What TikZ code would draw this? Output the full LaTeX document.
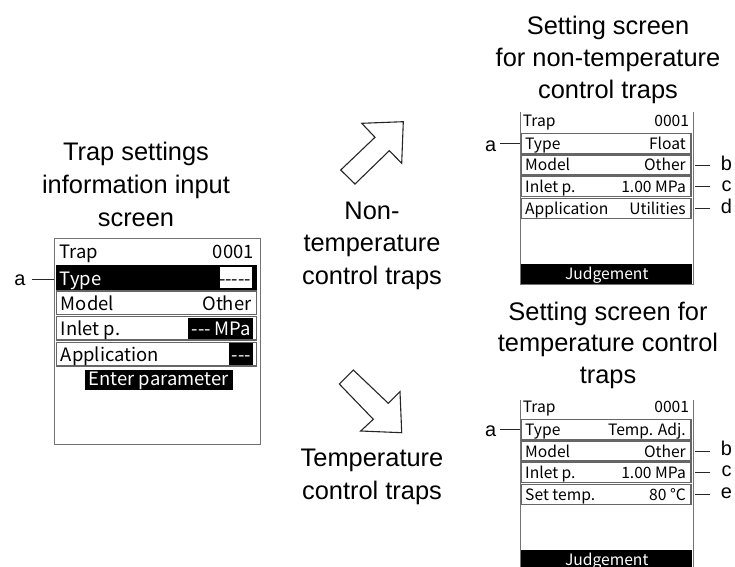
\documentclass[tikz,border=0pt]{standalone}
\usepackage{fontspec}
\setmainfont{Liberation Sans}
\newfontfamily\scrfont{Noto Sans CJK JP}
\newcommand\mkrow[6]{\node[#6, minimum width={((#4)-(#2))*1bp}, minimum height={((#5)-(#3))*1bp}] (#1) at ({((#2)+(#4))/2},{((#3)+(#5))/2}) {};}
\newcommand\hy{-\kern0pt}
\tikzset{
  title/.style={font=\fontsize{25.5}{32.2}\selectfont, align=center, inner sep=0pt, anchor=base},
  lbl/.style={font=\fontsize{20}{24}\selectfont, inner sep=0pt, anchor=base},
  lead/.style={draw=black!85, line width=0.9bp},
  scrbox/.style={draw=black!55, line width=1bp, inner sep=0pt, outer sep=0pt},
  scrnone/.style={inner sep=0pt, outer sep=0pt},
  scrline/.style={draw=black!55, line width=1bp},
  rowbox/.style={draw=black!60, line width=1.3bp, inner sep=0pt, outer sep=0pt},
  darkbox/.style={fill=black, draw=black, line width=0.8bp, inner sep=0pt, outer sep=0pt},
  whitebox/.style={fill=white, inner sep=0pt, outer sep=0pt},
  bigtxt/.style={font=\scrfont\fontsize{18.5}{22}\selectfont, inner sep=0pt},
  smtxt/.style={font=\scrfont\fontsize{15.7}{20}\selectfont, inner sep=0pt},
  arrowshape/.style={draw=black!85, line width=1.1bp, fill=white, line join=miter},
}
\begin{document}
\begin{tikzpicture}[x=1bp,y=-1bp]
\useasboundingbox (0,0) rectangle (735,567);
\clip (0,0) rectangle (735,567);

% ---------- left screen ----------
\node[title, font=\fontsize{25.5}{33}\selectfont] (tiL) at (136,226) {Trap settings\\information input\\screen};
\node[scrbox, minimum width=206.3bp, minimum height=206bp] (scrL) at (157.55,341.5) {};
\node[bigtxt, anchor=base west] (trapL) at (59.3,258) {Trap};
\node[bigtxt, anchor=base east] (numL) at (254,258) {0001};
\mkrow{typeL}{56.7}{265}{256.7}{289.3}{darkbox}
\mkrow{typeLv}{220}{267}{252.3}{287.5}{whitebox}
\node[bigtxt, text=white, anchor=base west] (typeLt) at ([shift={(3,-4.3)}]typeL.south west) {Type};
\node[bigtxt, anchor=base east] (typeLd) at ([shift={(-1,-2.5)}]typeLv.south east) {\hy\hy\hy\hy-};
\mkrow{modL}{56.7}{291}{256.7}{314.3}{rowbox}
\node[bigtxt, anchor=base west] (modLt) at ([shift={(4,-4.3)}]modL.south west) {Model};
\node[bigtxt, anchor=base east] (modLv) at ([shift={(-5,-4.3)}]modL.south east) {Other};
\mkrow{inL}{56.7}{316.7}{256.7}{340}{rowbox}
\mkrow{inLv}{188.3}{318}{252.3}{338.7}{darkbox}
\node[bigtxt, anchor=base west] (inLt) at ([shift={(4,-4.3)}]inL.south west) {Inlet p.};
\node[bigtxt, text=white, anchor=base east] (inLvt) at ([shift={(-1,-3)}]inLv.south east) {\hy\hy- MPa};
\mkrow{apL}{56.7}{342.3}{256.7}{366}{rowbox}
\mkrow{apLv}{229.3}{343.6}{252.3}{364.7}{darkbox}
\node[bigtxt, anchor=base west] (apLt) at ([shift={(4,-4.3)}]apL.south west) {Application};
\node[bigtxt, text=white, anchor=base east] (apLvt) at ([shift={(-1,-3)}]apLv.south east) {\hy\hy-};
\mkrow{enL}{85}{370}{232.3}{389.3}{darkbox}
\node[bigtxt, text=white, anchor=base] (enLt) at ([shift={(0,-4.3)}]enL.south) {Enter parameter};
\node[lbl] (aL) at (20,285) {a};
\draw[lead] ([xshift=6bp]aL.east) -- (aL.east -| scrL.west);

% ---------- arrows and middle labels ----------
\draw[arrowshape] (361.7,123.3) -- (403.3,121.7) -- (401.7,163.3) -- (389.3,150.7) -- (355,184) -- (340.7,170) -- (375,137.3) -- cycle;
\node[title] (nonT) at (372,284) {Non-\\temperature\\control traps};
\draw[arrowshape] (353.3,370) -- (388.3,403.3) -- (400,391.7) -- (401.7,432.7) -- (360.7,431) -- (373.3,419.3) -- (339.3,384) -- cycle;
\node[title] (tmpT) at (372,499) {Temperature\\control traps};

% ---------- right top screen ----------
\node[title, font=\fontsize{25.5}{32}\selectfont] (tiT) at (608,98.4) {Setting screen\\for non-temperature\\control traps};
\node[scrnone, minimum width=173.3bp, minimum height=172.8bp] (scrT) at (606.65,198.1) {};
\draw[scrline] (scrT.north west) -- (scrT.south west) -- (scrT.south east) -- (scrT.north east);
\node[smtxt, anchor=base west] (trapT) at (522.7,126.7) {Trap};
\node[smtxt, anchor=base east] (numT) at (689.3,126.7) {0001};
\mkrow{tyT}{521.7}{133.3}{691}{153.3}{rowbox}
\node[smtxt, anchor=base west] (tyTt) at ([shift={(3.3,-4)}]tyT.south west) {Type};
\node[smtxt, anchor=base east] (tyTv) at ([shift={(-5,-4)}]tyT.south east) {Float};
\mkrow{moT}{521.7}{155}{691}{175}{rowbox}
\node[smtxt, anchor=base west] (moTt) at ([shift={(3.3,-4)}]moT.south west) {Model};
\node[smtxt, anchor=base east] (moTv) at ([shift={(-5,-4)}]moT.south east) {Other};
\mkrow{inT}{521.7}{176.7}{691}{196.7}{rowbox}
\node[smtxt, anchor=base west] (inTt) at ([shift={(3.3,-4)}]inT.south west) {Inlet p.};
\node[smtxt, anchor=base east] (inTv) at ([shift={(-5,-4)}]inT.south east) {1.00 MPa};
\mkrow{apT}{521.7}{198.3}{691}{218.3}{rowbox}
\node[smtxt, anchor=base west] (apTt) at ([shift={(3.3,-4)}]apT.south west) {Application};
\node[smtxt, anchor=base east] (apTv) at ([shift={(-5,-4)}]apT.south east) {Utilities};
\mkrow{juT}{521.7}{264}{691.7}{283.3}{darkbox}
\node[smtxt, text=white, anchor=base] (juTt) at ([shift={(0,-4)}]juT.south) {Judgement};
\node[lbl] (aT) at (490.7,151.7) {a};
\draw[lead] ([xshift=4bp]aT.east |- tyT.west) -- (tyT.west -| scrT.west);
\node[lbl] (bT) at (726.5,170.7) {b};
\draw[lead] ([xshift=1.7bp]moT.east -| scrT.east) -- ([xshift=-11bp]moT.east -| bT.west);
\node[lbl] (cT) at (726.5,191.7) {c};
\draw[lead] ([xshift=1.7bp]inT.east -| scrT.east) -- ([xshift=-11bp]inT.east -| cT.west);
\node[lbl] (dT) at (726.5,213.3) {d};
\draw[lead] ([xshift=1.7bp]apT.east -| scrT.east) -- ([xshift=-11bp]apT.east -| dT.west);

% ---------- right bottom screen ----------
\node[title, font=\fontsize{25.5}{31.5}\selectfont] (tiB) at (608,383) {Setting screen for\\temperature control\\traps};
\node[scrnone, minimum width=173.3bp, minimum height=180bp] (scrB) at (606.65,490) {};
\draw[scrline] (scrB.north west) -- (scrB.south west);
\draw[scrline] (scrB.north east) -- (scrB.south east);
\node[smtxt, anchor=base west] (trapB) at (522.7,412.7) {Trap};
\node[smtxt, anchor=base east] (numB) at (689.3,412.7) {0001};
\mkrow{tyB}{521.7}{419.3}{691}{439.3}{rowbox}
\node[smtxt, anchor=base west] (tyBt) at ([shift={(3.3,-4)}]tyB.south west) {Type};
\node[smtxt, anchor=base east] (tyBv) at ([shift={(-5,-4)}]tyB.south east) {Temp. Adj.};
\mkrow{moB}{521.7}{441}{691}{461}{rowbox}
\node[smtxt, anchor=base west] (moBt) at ([shift={(3.3,-4)}]moB.south west) {Model};
\node[smtxt, anchor=base east] (moBv) at ([shift={(-5,-4)}]moB.south east) {Other};
\mkrow{inB}{521.7}{462.7}{691}{482.7}{rowbox}
\node[smtxt, anchor=base west] (inBt) at ([shift={(3.3,-4)}]inB.south west) {Inlet p.};
\node[smtxt, anchor=base east] (inBv) at ([shift={(-5,-4)}]inB.south east) {1.00 MPa};
\mkrow{stB}{521.7}{484.3}{691}{504.3}{rowbox}
\node[smtxt, anchor=base west] (stBt) at ([shift={(3.3,-4)}]stB.south west) {Set temp.};
\node[smtxt, anchor=base east] (stBv) at ([shift={(-5,-4)}]stB.south east) {80 °C};
\mkrow{juB}{521.7}{550}{691.7}{569.3}{darkbox}
\node[smtxt, text=white, anchor=base] (juBt) at ([shift={(0,-4)}]juB.south) {Judgement};
\node[lbl] (aB) at (490.7,436.7) {a};
\draw[lead] ([xshift=4bp]aB.east |- tyB.west) -- (tyB.west -| scrB.west);
\node[lbl] (bB) at (726.5,455.7) {b};
\draw[lead] ([xshift=1.7bp]moB.east -| scrB.east) -- ([xshift=-11bp]moB.east -| bB.west);
\node[lbl] (cB) at (726.5,476.7) {c};
\draw[lead] ([xshift=1.7bp]inB.east -| scrB.east) -- ([xshift=-11bp]inB.east -| cB.west);
\node[lbl] (eB) at (726.5,498.3) {e};
\draw[lead] ([xshift=1.7bp]stB.east -| scrB.east) -- ([xshift=-11bp]stB.east -| eB.west);
\end{tikzpicture}
\end{document}
